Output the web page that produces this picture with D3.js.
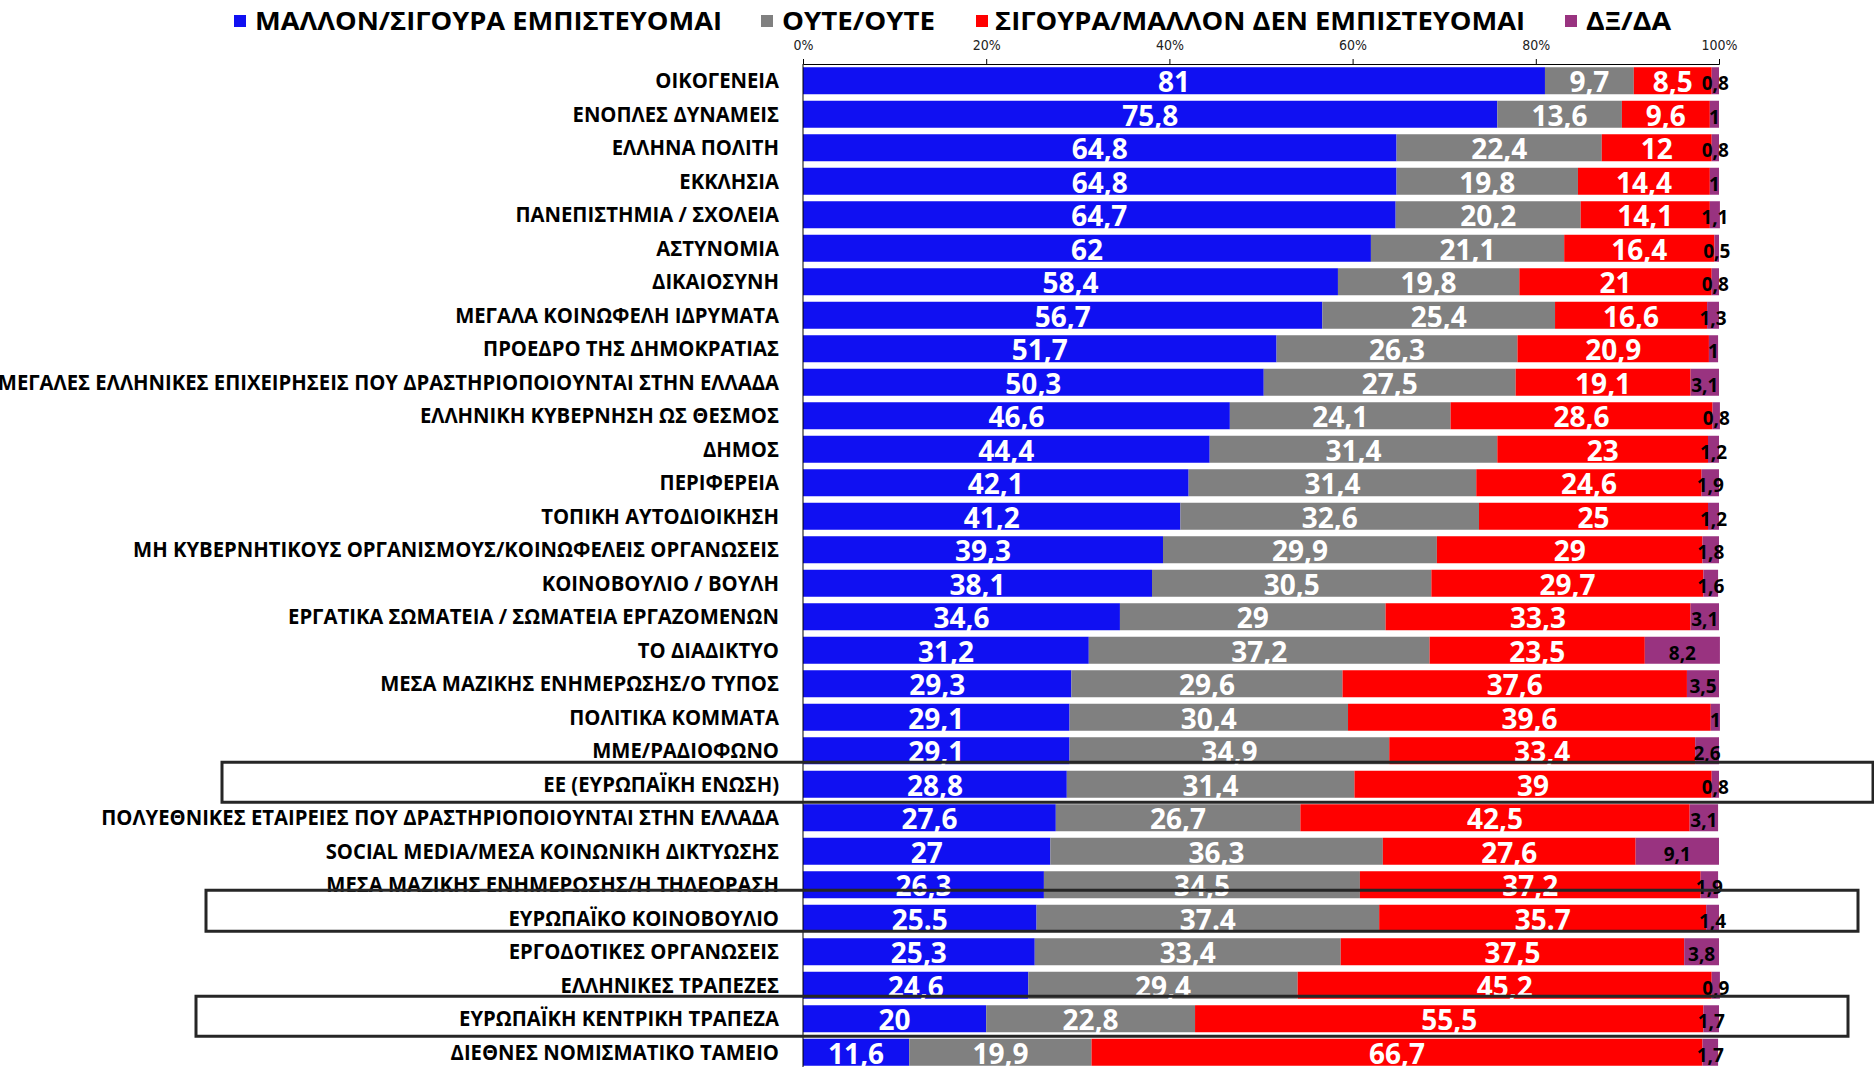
<!DOCTYPE html>
<html>
<head>
    <meta charset="utf-8">
    <script src="https://d3js.org/d3.v7.min.js"></script>
    <style>
        body { margin: 0; background: #fff; }
        svg { display: block; }
    </style>
</head>
<body>
    <div id="chart"></div>

    <script>
        // Categories, top to bottom
        const categories = [
            "ΟΙΚΟΓΕΝΕΙΑ",
            "ΕΝΟΠΛΕΣ ΔΥΝΑΜΕΙΣ",
            "ΕΛΛΗΝΑ ΠΟΛΙΤΗ",
            "ΕΚΚΛΗΣΙΑ",
            "ΠΑΝΕΠΙΣΤΗΜΙΑ / ΣΧΟΛΕΙΑ",
            "ΑΣΤΥΝΟΜΙΑ",
            "ΔΙΚΑΙΟΣΥΝΗ",
            "ΜΕΓΑΛΑ ΚΟΙΝΩΦΕΛΗ ΙΔΡΥΜΑΤΑ",
            "ΠΡΟΕΔΡΟ ΤΗΣ ΔΗΜΟΚΡΑΤΙΑΣ",
            "ΜΕΓΑΛΕΣ ΕΛΛΗΝΙΚΕΣ ΕΠΙΧΕΙΡΗΣΕΙΣ ΠΟΥ ΔΡΑΣΤΗΡΙΟΠΟΙΟΥΝΤΑΙ ΣΤΗΝ ΕΛΛΑΔΑ",
            "ΕΛΛΗΝΙΚΗ ΚΥΒΕΡΝΗΣΗ ΩΣ ΘΕΣΜΟΣ",
            "ΔΗΜΟΣ",
            "ΠΕΡΙΦΕΡΕΙΑ",
            "ΤΟΠΙΚΗ ΑΥΤΟΔΙΟΙΚΗΣΗ",
            "ΜΗ ΚΥΒΕΡΝΗΤΙΚΟΥΣ ΟΡΓΑΝΙΣΜΟΥΣ/ΚΟΙΝΩΦΕΛΕΙΣ ΟΡΓΑΝΩΣΕΙΣ",
            "ΚΟΙΝΟΒΟΥΛΙΟ / ΒΟΥΛΗ",
            "ΕΡΓΑΤΙΚΑ ΣΩΜΑΤΕΙΑ / ΣΩΜΑΤΕΙΑ ΕΡΓΑΖΟΜΕΝΩΝ",
            "ΤΟ ΔΙΑΔΙΚΤΥΟ",
            "ΜΕΣΑ ΜΑΖΙΚΗΣ ΕΝΗΜΕΡΩΣΗΣ/Ο ΤΥΠΟΣ",
            "ΠΟΛΙΤΙΚΑ ΚΟΜΜΑΤΑ",
            "ΜΜΕ/ΡΑΔΙΟΦΩΝΟ",
            "ΕΕ (ΕΥΡΩΠΑΪΚΗ ΕΝΩΣΗ)",
            "ΠΟΛΥΕΘΝΙΚΕΣ ΕΤΑΙΡΕΙΕΣ ΠΟΥ ΔΡΑΣΤΗΡΙΟΠΟΙΟΥΝΤΑΙ ΣΤΗΝ ΕΛΛΑΔΑ",
            "SOCIAL MEDIA/ΜΕΣΑ ΚΟΙΝΩΝΙΚΗ ΔΙΚΤΥΩΣΗΣ",
            "ΜΕΣΑ ΜΑΖΙΚΗΣ ΕΝΗΜΕΡΩΣΗΣ/Η ΤΗΛΕΟΡΑΣΗ",
            "ΕΥΡΩΠΑΪΚΟ ΚΟΙΝΟΒΟΥΛΙΟ",
            "ΕΡΓΟΔΟΤΙΚΕΣ ΟΡΓΑΝΩΣΕΙΣ",
            "ΕΛΛΗΝΙΚΕΣ ΤΡΑΠΕΖΕΣ",
            "ΕΥΡΩΠΑΪΚΗ ΚΕΝΤΡΙΚΗ ΤΡΑΠΕΖΑ",
            "ΔΙΕΘΝΕΣ ΝΟΜΙΣΜΑΤΙΚΟ ΤΑΜΕΙΟ"
        ];

        // Series values (%)
        const trust = [81, 75.8, 64.8, 64.8, 64.7, 62, 58.4, 56.7, 51.7, 50.3, 46.6, 44.4, 42.1, 41.2, 39.3,
                       38.1, 34.6, 31.2, 29.3, 29.1, 29.1, 28.8, 27.6, 27, 26.3, 25.5, 25.3, 24.6, 20, 11.6];
        const neither = [9.7, 13.6, 22.4, 19.8, 20.2, 21.1, 19.8, 25.4, 26.3, 27.5, 24.1, 31.4, 31.4, 32.6, 29.9,
                         30.5, 29, 37.2, 29.6, 30.4, 34.9, 31.4, 26.7, 36.3, 34.5, 37.4, 33.4, 29.4, 22.8, 19.9];
        const distrust = [8.5, 9.6, 12, 14.4, 14.1, 16.4, 21, 16.6, 20.9, 19.1, 28.6, 23, 24.6, 25, 29,
                          29.7, 33.3, 23.5, 37.6, 39.6, 33.4, 39, 42.5, 27.6, 37.2, 35.7, 37.5, 45.2, 55.5, 66.7];
        const dkna = [0.8, 1, 0.8, 1, 1.1, 0.5, 0.8, 1.3, 1, 3.1, 0.8, 1.2, 1.9, 1.2, 1.8,
                      1.6, 3.1, 8.2, 3.5, 1, 2.6, 0.8, 3.1, 9.1, 1.9, 1.4, 3.8, 0.9, 1.7, 1.7];

        const seriesNames = ["ΜΑΛΛΟΝ/ΣΙΓΟΥΡΑ ΕΜΠΙΣΤΕΥΟΜΑΙ", "ΟΥΤΕ/ΟΥΤΕ", "ΣΙΓΟΥΡΑ/ΜΑΛΛΟΝ ΔΕΝ ΕΜΠΙΣΤΕΥΟΜΑΙ", "ΔΞ/ΔΑ"];
        const tickValues = [0, 20, 40, 60, 80, 100];

        // rows highlighted with a frame in the original
        const highlighted = ["ΕΕ (ΕΥΡΩΠΑΪΚΗ ΕΝΩΣΗ)", "ΕΥΡΩΠΑΪΚΟ ΚΟΙΝΟΒΟΥΛΙΟ", "ΕΥΡΩΠΑΪΚΗ ΚΕΝΤΡΙΚΗ ΤΡΑΠΕΖΑ"];
        // this row was pasted with a point as decimal separator
        const pointRows = ["ΕΥΡΩΠΑΪΚΟ ΚΟΙΝΟΒΟΥΛΙΟ"];

        const keys = ["trust", "neither", "distrust", "dkna"];
        const colors = ["#1010f2", "#808080", "#ff0000", "#993380"];

        const rows = categories.map((c, i) => ({
            cat: c, trust: trust[i], neither: neither[i], distrust: distrust[i], dkna: dkna[i]
        }));

        const W = 1874, H = 1067;
        const svg = d3.select("#chart").append("svg")
            .attr("width", W)
            .attr("height", H);

        const x = d3.scaleLinear().domain([0, 100]).range([803, 1719]);
        const y = d3.scaleBand().domain(categories)
            .range([64, 64 + categories.length * 33.5])
            .paddingInner(0.194)
            .paddingOuter(0.097);

        const font = "'Open Sans', 'Noto Sans', sans-serif";

        // Legend
        const legendPos = [
            { sq: 234, tx: 255, w: 467 },
            { sq: 761, tx: 782, w: 153 },
            { sq: 976, tx: 995, w: 530 },
            { sq: 1565, tx: 1586, w: 85 }
        ];
        const legend = svg.append("g");
        legend.selectAll("rect")
            .data(seriesNames)
            .join("rect")
            .attr("x", (d, i) => legendPos[i].sq)
            .attr("y", 15)
            .attr("width", 12)
            .attr("height", 12)
            .attr("fill", (d, i) => colors[i]);
        legend.selectAll("text")
            .data(seriesNames)
            .join("text")
            .attr("x", (d, i) => legendPos[i].tx)
            .attr("y", 30)
            .attr("textLength", (d, i) => legendPos[i].w)
            .attr("lengthAdjust", "spacingAndGlyphs")
            .style("font-family", font)
            .style("font-weight", 700)
            .style("font-size", "25px")
            .attr("fill", "#000")
            .text(d => d);

        // Top axis
        const axis = svg.append("g")
            .attr("transform", "translate(0,64)")
            .call(d3.axisTop(x)
                .tickValues(tickValues)
                .tickFormat(d => d + "%")
                .tickSize(5)
                .tickPadding(9));
        axis.select(".domain").attr("stroke", "#000");
        axis.selectAll(".tick line").attr("stroke", "#000");
        axis.selectAll(".tick text")
            .style("font-family", "'DejaVu Sans Condensed', 'DejaVu Sans', sans-serif")
            .style("font-size", "14px")
            .attr("fill", "#222");

        // Stacked bars
        const stacked = d3.stack().keys(keys)(rows);

        const layers = svg.append("g").selectAll("g")
            .data(stacked)
            .join("g")
            .attr("fill", (d, i) => colors[i]);

        layers.selectAll("rect")
            .data(d => d)
            .join("rect")
            .attr("x", d => x(d[0]))
            .attr("y", d => y(d.data.cat))
            .attr("width", d => x(d[1]) - x(d[0]))
            .attr("height", y.bandwidth());

        // vertical axis line
        svg.append("line")
            .attr("x1", x(0)).attr("x2", x(0))
            .attr("y1", 64).attr("y2", H)
            .attr("stroke", "#000")
            .attr("stroke-width", 1);

        // Category labels (condensed to match original width)
        const catG = svg.append("g").attr("transform", "translate(779,0)");
        const catText = catG.selectAll("text")
            .data(categories)
            .join("text")
            .attr("x", 0)
            .attr("y", d => y(d) + y.bandwidth() / 2 + 7.5)
            .attr("text-anchor", "end")
            .style("font-family", font)
            .style("font-weight", 700)
            .style("font-size", "21px")
            .attr("fill", "#000")
            .text(d => d);
        const refW = catText.filter(d => d === categories[9]).node().getComputedTextLength();
        const sx = 782 / refW;
        catG.attr("transform", `translate(779,0) scale(${sx},1)`);

        // Value labels
        const fmt = (v, cat) => {
            const s = String(v);
            return pointRows.includes(cat) ? s : s.replace(".", ",");
        };

        layers.each(function (layer, li) {
            const g = d3.select(this.parentNode).append("g");
            g.selectAll("text")
                .data(layer)
                .join("text")
                .attr("x", d => (x(d[0]) + x(d[1])) / 2)
                .attr("y", d => y(d.data.cat) + y.bandwidth() / 2 + (li === 3 ? 9.5 : 11.5))
                .attr("text-anchor", "middle")
                .style("font-family", font)
                .style("font-weight", 700)
                .style("font-size", li === 3 ? "19px" : "28px")
                .attr("fill", li === 3 ? "#000" : "#fff")
                .text(d => li === 3
                    ? String(d.data[keys[li]]).replace(".", ",")
                    : fmt(d.data[keys[li]], d.data.cat));
        });

        // Highlight frames
        const frames = [
            { left: 222, right: 1873, top: -8.5, bottom: 4.5 },
            { left: 206, right: 1858, top: -14.5, bottom: -0.5 },
            { left: 196, right: 1848, top: -9, bottom: 4 }
        ];
        svg.append("g").selectAll("rect")
            .data(highlighted)
            .join("rect")
            .attr("x", (d, i) => frames[i].left)
            .attr("y", (d, i) => y(d) + frames[i].top)
            .attr("width", (d, i) => frames[i].right - frames[i].left)
            .attr("height", (d, i) => y.bandwidth() + frames[i].bottom - frames[i].top)
            .attr("fill", "none")
            .attr("stroke", "#262626")
            .attr("stroke-width", 3);
    </script>
</body>
</html>
